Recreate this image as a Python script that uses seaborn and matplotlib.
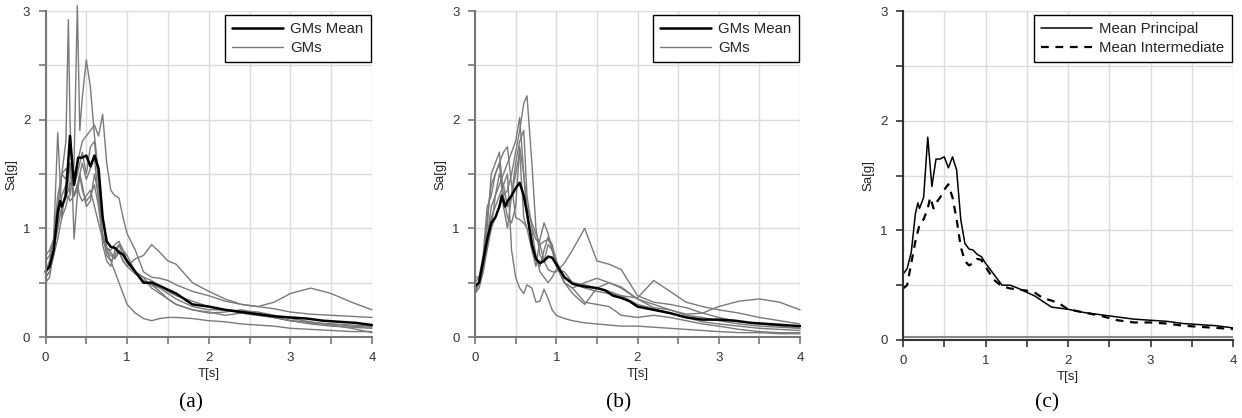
import numpy as np
import pandas as pd
import matplotlib
matplotlib.use("Agg")
import matplotlib.pyplot as plt
from matplotlib.lines import Line2D
import seaborn as sns

# ---------------- data ----------------
T_gm_a = [0, 0.05, 0.1, 0.15, 0.2, 0.25, 0.28, 0.3, 0.35, 0.39, 0.42, 0.45, 0.5, 0.55,
          0.6, 0.65, 0.7, 0.75, 0.8, 0.85, 0.9, 0.95, 1.0, 1.1, 1.2, 1.3, 1.4, 1.5, 1.6,
          1.8, 2.0, 2.2, 2.4, 2.6, 2.8, 3.0, 3.25, 3.5, 3.75, 4.0]
gm_a1 = [0.55, 0.6, 0.75, 1.1, 1.3, 1.4, 1.5, 1.3, 1.6, 3.05, 1.9, 2.2, 2.55, 2.3, 1.85, 1.5, 1.1,
         0.82, 0.78, 0.72, 0.8, 0.7, 0.65, 0.58, 0.55, 0.52, 0.47, 0.42, 0.38, 0.33, 0.28, 0.25,
         0.22, 0.2, 0.18, 0.15, 0.13, 0.12, 0.11, 0.1]
gm_a2 = [0.5, 0.55, 0.8, 1.2, 1.5, 1.8, 2.92, 2.0, 0.9, 1.3, 1.5, 1.6, 1.45, 1.55, 1.65, 1.25, 0.95,
         0.75, 0.7, 0.75, 0.85, 0.8, 0.7, 0.6, 0.5, 0.48, 0.42, 0.35, 0.3, 0.25, 0.23, 0.2, 0.22,
         0.2, 0.18, 0.15, 0.13, 0.12, 0.1, 0.09]
gm_a3 = [0.6, 0.65, 0.8, 1.0, 1.2, 1.3, 1.35, 1.4, 1.5, 1.6, 1.7, 1.8, 1.85, 1.9, 1.95, 1.85, 2.05,
         1.6, 1.35, 1.3, 1.28, 1.1, 0.95, 0.8, 0.6, 0.55, 0.54, 0.52, 0.48, 0.42, 0.38, 0.33, 0.3,
         0.28, 0.26, 0.23, 0.21, 0.2, 0.19, 0.18]
gm_a4 = [0.6, 0.7, 0.9, 1.88, 1.1, 1.4, 1.5, 1.6, 1.3, 1.4, 1.5, 1.35, 1.25, 1.3, 1.4, 1.2, 0.9,
         0.8, 0.75, 0.72, 0.78, 0.7, 0.65, 0.72, 0.75, 0.85, 0.78, 0.7, 0.67, 0.5, 0.42, 0.35, 0.3,
         0.28, 0.32, 0.4, 0.45, 0.4, 0.32, 0.25]
gm_a5 = [0.55, 0.6, 0.75, 0.9, 1.1, 1.2, 1.3, 1.25, 1.3, 1.4, 1.3, 1.25, 1.3, 1.35, 1.2, 1.05, 0.9,
         0.8, 0.7, 0.6, 0.5, 0.4, 0.3, 0.22, 0.17, 0.15, 0.17, 0.18, 0.18, 0.17, 0.15, 0.14, 0.12,
         0.11, 0.1, 0.08, 0.07, 0.06, 0.05, 0.05]
gm_a6 = [0.7, 0.75, 0.9, 1.3, 1.5, 1.55, 1.5, 1.6, 1.4, 1.5, 1.6, 1.7, 1.5, 1.75, 1.8, 1.4, 0.85,
         0.7, 0.65, 0.8, 0.85, 0.75, 0.68, 0.6, 0.55, 0.45, 0.4, 0.35, 0.3, 0.25, 0.22, 0.23, 0.25,
         0.22, 0.18, 0.15, 0.12, 0.1, 0.09, 0.08]
gm_a7 = [0.75, 0.8, 0.9, 1.0, 1.5, 1.45, 1.6, 1.5, 1.3, 1.35, 1.5, 1.4, 1.2, 1.25, 1.5, 1.3, 0.95,
         0.82, 0.8, 0.85, 0.88, 0.8, 0.75, 0.6, 0.52, 0.48, 0.45, 0.4, 0.35, 0.28, 0.25, 0.25, 0.24,
         0.23, 0.2, 0.17, 0.14, 0.11, 0.08, 0.04]

T_gm_b = [0, 0.05, 0.1, 0.15, 0.2, 0.25, 0.3, 0.35, 0.4, 0.45, 0.5, 0.55, 0.6, 0.64, 0.7, 0.75,
          0.8, 0.85, 0.9, 0.95, 1.0, 1.1, 1.2, 1.35, 1.5, 1.65, 1.8, 2.0, 2.2, 2.4, 2.6, 2.8, 3.0,
          3.25, 3.5, 3.75, 4.0]
gm_b1 = [0.45, 0.5, 0.65, 0.85, 1.0, 1.1, 1.2, 1.3, 1.35, 1.5, 1.7, 1.9, 2.15, 2.22, 1.6, 1.0, 0.75,
         0.7, 0.85, 0.8, 0.7, 0.55, 0.5, 0.48, 0.45, 0.42, 0.38, 0.3, 0.26, 0.22, 0.18, 0.14, 0.12,
         0.1, 0.08, 0.07, 0.06]
gm_b2 = [0.4, 0.45, 0.6, 0.9, 1.2, 1.3, 1.4, 1.5, 1.6, 1.7, 1.8, 2.02, 1.5, 1.2, 1.05, 0.95, 0.85,
         0.7, 0.62, 0.6, 0.6, 0.68, 0.8, 1.0, 0.7, 0.67, 0.62, 0.38, 0.32, 0.3, 0.27, 0.22, 0.18,
         0.14, 0.12, 0.1, 0.08]
gm_b3 = [0.42, 0.5, 0.7, 1.1, 1.4, 1.5, 1.6, 1.7, 1.75, 1.4, 1.1, 1.08, 1.05, 1.0, 0.98, 0.75, 0.6,
         0.55, 0.5, 0.55, 0.62, 0.6, 0.5, 0.45, 0.42, 0.4, 0.38, 0.36, 0.52, 0.42, 0.32, 0.28, 0.25,
         0.22, 0.18, 0.15, 0.12]
gm_b4 = [0.4, 0.5, 0.7, 0.9, 1.1, 1.2, 1.3, 1.4, 1.5, 0.8, 0.55, 0.45, 0.4, 0.48, 0.45, 0.32, 0.33,
         0.44, 0.35, 0.25, 0.2, 0.17, 0.15, 0.13, 0.12, 0.11, 0.1, 0.1, 0.09, 0.08, 0.07, 0.06, 0.05,
         0.04, 0.04, 0.03, 0.03]
gm_b5 = [0.45, 0.5, 0.6, 0.8, 1.0, 1.3, 1.5, 1.4, 1.2, 1.3, 1.5, 1.7, 1.1, 1.0, 0.8, 0.65, 0.9,
         1.05, 0.95, 0.8, 0.65, 0.5, 0.4, 0.3, 0.45, 0.5, 0.45, 0.35, 0.3, 0.25, 0.21, 0.22, 0.28,
         0.33, 0.35, 0.32, 0.25]
gm_b6 = [0.5, 0.55, 0.75, 1.2, 1.3, 1.5, 1.6, 1.2, 1.0, 1.3, 1.6, 1.8, 1.9, 1.3, 1.0, 0.9, 0.85,
         0.88, 0.9, 0.82, 0.7, 0.5, 0.45, 0.5, 0.54, 0.5, 0.46, 0.35, 0.27, 0.25, 0.2, 0.18, 0.15,
         0.12, 0.1, 0.09, 0.08]
gm_b7 = [0.55, 0.55, 0.7, 1.0, 1.5, 1.6, 1.7, 1.3, 1.1, 1.05, 1.2, 1.75, 1.5, 1.1, 0.9, 0.7, 0.65,
         0.8, 0.92, 0.85, 0.7, 0.5, 0.45, 0.32, 0.3, 0.28, 0.2, 0.18, 0.2, 0.18, 0.15, 0.12, 0.1,
         0.07, 0.05, 0.04, 0.04]

T_mean_p = [0, 0.05, 0.1, 0.15, 0.18, 0.2, 0.25, 0.3, 0.35, 0.4, 0.45, 0.5, 0.55, 0.6, 0.65, 0.7,
            0.75, 0.8, 0.85, 0.9, 0.95, 1.0, 1.1, 1.2, 1.3, 1.4, 1.6, 1.8, 2.0, 2.2, 2.4, 2.6,
            2.8, 3.0, 3.2, 3.4, 3.6, 3.8, 4.0]
mean_principal = [0.6, 0.65, 0.8, 1.15, 1.25, 1.2, 1.3, 1.85, 1.4, 1.65, 1.65, 1.67, 1.57, 1.67,
                  1.55, 1.1, 0.88, 0.83, 0.82, 0.78, 0.76, 0.7, 0.6, 0.5, 0.5, 0.47, 0.4, 0.3,
                  0.28, 0.25, 0.23, 0.21, 0.19, 0.18, 0.17, 0.15, 0.14, 0.13, 0.11]

T_mean_i = [0, 0.05, 0.1, 0.15, 0.2, 0.25, 0.3, 0.33, 0.37, 0.4, 0.45, 0.5, 0.55, 0.6, 0.65, 0.7,
            0.75, 0.8, 0.85, 0.9, 0.95, 1.0, 1.1, 1.2, 1.3, 1.4, 1.5, 1.6, 1.7, 1.8, 1.9, 2.0,
            2.2, 2.4, 2.6, 2.8, 3.0, 3.2, 3.4, 3.6, 3.8, 4.0]
mean_intermediate = [0.47, 0.5, 0.7, 0.9, 1.05, 1.1, 1.2, 1.3, 1.2, 1.25, 1.3, 1.37, 1.42, 1.3,
                     1.1, 0.85, 0.72, 0.68, 0.7, 0.74, 0.73, 0.67, 0.55, 0.49, 0.47, 0.46, 0.45,
                     0.43, 0.38, 0.36, 0.33, 0.28, 0.25, 0.22, 0.18, 0.16, 0.16, 0.15, 0.13, 0.12,
                     0.11, 0.1]

baseline_c = 0.03

x_ticks = [0, 1, 2, 3, 4]
y_ticks = [0, 1, 2, 3]
captions = ["(a)", "(b)", "(c)"]
legend_ab = ["GMs Mean", "GMs"]
legend_c = ["Mean Principal", "Mean Intermediate"]

# ---------------- build tables ----------------
def gm_frame(T, curves):
    rows = []
    for i, c in enumerate(curves):
        rows.append(pd.DataFrame({"T": T, "Sa": c, "GM": f"GM{i+1}"}))
    return pd.concat(rows, ignore_index=True)

df_a = gm_frame(T_gm_a, [gm_a1, gm_a2, gm_a3, gm_a4, gm_a5, gm_a6, gm_a7])
df_b = gm_frame(T_gm_b, [gm_b1, gm_b2, gm_b3, gm_b4, gm_b5, gm_b6, gm_b7])
df_mp = pd.DataFrame({"T": T_mean_p, "Sa": mean_principal})
df_mi = pd.DataFrame({"T": T_mean_i, "Sa": mean_intermediate})

# ---------------- style ----------------
sns.set_theme(style="white")
plt.rcParams["font.family"] = ["Liberation Sans", "DejaVu Sans"]

W, H = 1242, 418
fig = plt.figure(figsize=(W / 100, H / 100), dpi=100)

def px_axes(l, r, t, b):
    return fig.add_axes([l / W, 1 - b / H, (r - l) / W, (b - t) / H])

ax_a = px_axes(45.5, 372, 11, 337)
ax_b = px_axes(475, 800, 11, 337)
ax_c = px_axes(903, 1233, 11, 340)

GM_COL = "#7a7a7a"

def fmt(v, majors):
    for m in majors:
        if abs(v - m) < 1e-9:
            return str(m)
    return ""

def style_axes(ax, spine_col):
    ax.set_xlim(0, 4)
    ax.set_ylim(0, 3)
    xt = np.arange(0, 4.01, 0.5)
    yt = np.arange(0, 3.01, 0.5)
    ax.set_xticks(xt)
    ax.set_xticklabels([fmt(v, x_ticks) for v in xt])
    ax.set_yticks(yt)
    ax.set_yticklabels([fmt(v, y_ticks) for v in yt])
    ax.grid(True, color="#dcdcdc", linewidth=1.0)
    ax.set_axisbelow(True)
    for s in ["top", "right"]:
        ax.spines[s].set_visible(False)
    for s in ["left", "bottom"]:
        ax.spines[s].set_visible(True)
        ax.spines[s].set_color(spine_col)
        ax.spines[s].set_linewidth(1.5)
    ax.tick_params(axis="both", direction="out", length=5, width=1.2, color=spine_col,
                   labelsize=9.5, labelcolor="#333333", pad=6, bottom=True, left=True)
    ax.set_xlabel("T[s]", fontsize=9.5, color="#222222", labelpad=3)
    ax.set_ylabel("Sa[g]", fontsize=9.5, color="#222222", labelpad=4)

def make_legend(ax, handles, labels):
    leg = ax.legend(handles, labels, loc="upper right", bbox_to_anchor=(0.996, 0.988),
                    borderaxespad=0.0, fontsize=10.8, handlelength=3.4, handletextpad=0.45,
                    labelspacing=0.3, borderpad=0.5, fancybox=False, framealpha=1)
    leg.get_frame().set_edgecolor("black")
    leg.get_frame().set_linewidth(1.0)

for ax, df, mean_df in [(ax_a, df_a, df_mp), (ax_b, df_b, df_mi)]:
    sns.lineplot(data=df, x="T", y="Sa", units="GM", estimator=None, color=GM_COL,
                 linewidth=1.0, ax=ax, legend=False)
    sns.lineplot(data=mean_df, x="T", y="Sa", color="black", linewidth=1.8, ax=ax,
                 legend=False)
    style_axes(ax, "#777777")
    for ln in ax.lines:
        ln.set_clip_on(False)
    handles = [Line2D([], [], color="black", lw=1.8), Line2D([], [], color=GM_COL, lw=1.0)]
    make_legend(ax, handles, legend_ab)

sns.lineplot(data=df_mp, x="T", y="Sa", color="black", linewidth=1.1, ax=ax_c, legend=False)
sns.lineplot(data=df_mi, x="T", y="Sa", color="black", linewidth=1.6, ax=ax_c, legend=False,
             linestyle=(0, (3.5, 3)))
ax_c.axhline(baseline_c, color="#888888", linewidth=1.5, zorder=2)
style_axes(ax_c, "#333333")
handles = [Line2D([], [], color="black", lw=1.1),
           Line2D([], [], color="black", lw=1.6, linestyle=(0, (3.5, 3)))]
make_legend(ax_c, handles, legend_c)

for cx, cap in zip([190.7, 619, 1047], captions):
    fig.text(cx / W, 1 - 403 / H, cap, ha="center", va="center", fontsize=15.5,
             family=["Liberation Serif", "DejaVu Serif"], color="black")

fig.savefig("out.png", dpi=100)
